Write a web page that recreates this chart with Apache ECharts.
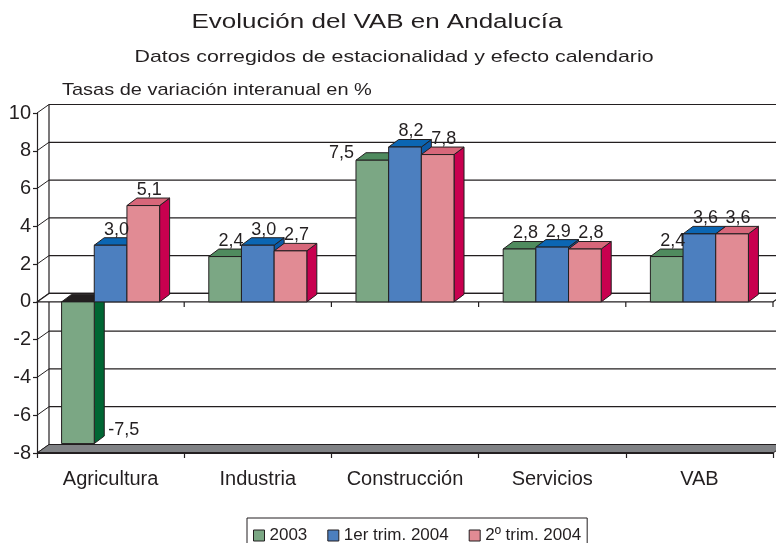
<!DOCTYPE html>
<html><head><meta charset="utf-8">
<script src="https://cdn.jsdelivr.net/npm/echarts@6/dist/echarts.min.js"></script>
<style>html,body{margin:0;padding:0;background:#fff}#c{width:776px;height:543px}</style>
</head><body><div id="c"></div>
<script>
// ---- data ----
const categories = ['Agricultura', 'Industria', 'Construcción', 'Servicios', 'VAB'];
const seriesNames = ['2003', '1er trim. 2004', '2º trim. 2004'];
const values2003 = [-7.5, 2.4, 7.5, 2.8, 2.4];
const values1T2004 = [3.0, 3.0, 8.2, 2.9, 3.6];
const values2T2004 = [5.1, 2.7, 7.8, 2.8, 3.6];
const yTicks = [-8, -6, -4, -2, 0, 2, 4, 6, 8, 10];
const titleText = 'Evolución del VAB en Andalucía';
const subtitleText = 'Datos corregidos de estacionalidad y efecto calendario';
const axisTitleText = 'Tasas de variación interanual en %';

// ---- style ----
const INK = '#231f20';
const FONT = '"Liberation Sans", Arial, Helvetica, sans-serif';
const BDX = 10, BDY = -7.5;   // bar depth
const WDX = 12, WDY = -8.5;   // wall depth
const NEG_TOP = '#231f20';
const FLOOR = '#808285';
const LABEL_SIZE = 18;
const palettes = [
  {front: '#7ba784', top: '#4f8b5e', side: '#006633'},
  {front: '#4c7fbf', top: '#0b66b3', side: '#0b5aa6'},
  {front: '#e18b94', top: '#d7677a', side: '#c8004f'}
];
const fmt = v => v.toFixed(1).replace('.', ',');

function txt(x, y, text, size, align, valign, extra) {
  return Object.assign({
    type: 'text', x: x, y: y,
    style: {text: text, fontSize: size, fontFamily: FONT, fill: INK,
      textAlign: align, align: align, textVerticalAlign: valign, verticalAlign: valign}
  }, extra || {});
}

function renderFrame(params, api) {
  const cs = params.coordSys;
  const L = cs.x, R = cs.x + cs.width;
  const yv = v => api.coord([0, v])[1];
  const yMax = yv(yTicks[yTicks.length - 1]), yMin = yv(yTicks[0]), y0 = yv(0);
  const cw = api.size([1, 0])[0];
  const ch = [];
  const ln = (x1, y1, x2, y2, w) => ({type: 'line', shape: {x1, y1, x2, y2}, style: {stroke: INK, lineWidth: w || 1}});
  ch.push({type: 'rect', shape: {x: L + WDX, y: yMax + WDY, width: R - L, height: yMin - yMax}, style: {fill: '#fff'}});
  yTicks.forEach(t => {
    const y = yv(t);
    ch.push(ln(L + WDX, y + WDY, R + WDX, y + WDY, 1.2));
    ch.push(ln(L, y, L + WDX, y + WDY, 1));
  });
  ch.push(ln(L + WDX, yMax + WDY, L + WDX, yMin + WDY, 1.2));
  // zero plane
  ch.push({type: 'polygon', shape: {points: [[L, y0], [L + WDX, y0 + WDY], [R + WDX, y0 + WDY], [R, y0]]},
    style: {fill: '#fff', stroke: INK, lineWidth: 1.2}});
  for (let i = 1; i <= categories.length; i++) ch.push(ln(L + i * cw, y0, L + i * cw, y0 + 5, 1.2));
  // floor
  ch.push({type: 'polygon', shape: {points: [[L, yMin], [L + WDX, yMin + WDY], [R + WDX, yMin + WDY], [R, yMin]]},
    style: {fill: FLOOR, stroke: INK, lineWidth: 1}});
  ch.push(ln(L, yMin, R, yMin, 2));
  return {type: 'group', children: ch};
}

function makeBarRenderer(sIdx) {
  const pal = palettes[sIdx];
  return function (params, api) {
    const ci = api.value(0), v = api.value(1);
    const cw = api.size([1, 0])[0];
    const bw = cw * 0.222;
    const c0 = api.coord([ci, 0]);
    const c1 = api.coord([ci, v]);
    const cx = c0[0] + (sIdx - 1) * bw;
    const x0 = cx - bw / 2, x1 = cx + bw / 2;
    const yTop = Math.min(c0[1], c1[1]), yBot = Math.max(c0[1], c1[1]);
    const neg = v < 0;
    const z2 = sIdx * 10;
    const ch = [
      {type: 'polygon', z2: z2, shape: {points: [[x1, yTop], [x1 + BDX, yTop + BDY], [x1 + BDX, yBot + BDY], [x1, yBot]]},
        style: {fill: pal.side, stroke: INK, lineWidth: 1}},
      {type: 'polygon', z2: z2 + 1, shape: {points: [[x0, yTop], [x0 + BDX, yTop + BDY], [x1 + BDX, yTop + BDY], [x1, yTop]]},
        style: {fill: neg ? NEG_TOP : pal.top, stroke: INK, lineWidth: 1}},
      {type: 'rect', z2: z2 + 2, shape: {x: x0, y: yTop, width: bw, height: yBot - yTop},
        style: {fill: pal.front, stroke: INK, lineWidth: 1}}
    ];
    let lab;
    if (neg) lab = txt(x1 + BDX + 4, yBot + BDY - 6, fmt(v), LABEL_SIZE, 'left', 'middle', {z2: 100});
    else if (categories[ci] === 'Construcción' && sIdx === 0)
      lab = txt(x0 - 2, yTop + BDY, fmt(v), LABEL_SIZE, 'right', 'middle', {z2: 100});
    else lab = txt(cx + BDX / 2 + 1, yTop + BDY + 1, fmt(v), LABEL_SIZE, 'center', 'bottom', {z2: 100});
    ch.push(lab);
    return {type: 'group', children: ch};
  };
}

const seriesValues = [values2003, values1T2004, values2T2004];
const barSeries = seriesNames.map((name, s) => ({
  type: 'custom', name: name, z: 3, silent: true,
  itemStyle: {color: palettes[s].front, borderColor: INK, borderWidth: 1},
  data: seriesValues[s].map((v, i) => [i, v]),
  encode: {x: 0, y: 1},
  renderItem: makeBarRenderer(s)
}));

const chart = echarts.init(document.getElementById('c'), null, {renderer: 'canvas'});
chart.setOption({
  animation: false,
  backgroundColor: '#fff',
  textStyle: {fontFamily: FONT},
  grid: {left: 37, right: 3, top: 113, bottom: 90, containLabel: false, outerBoundsMode: 'none'},
  xAxis: {
    type: 'category', data: categories, boundaryGap: true,
    axisLine: {show: false, onZero: false},
    axisTick: {show: true, length: 5, lineStyle: {color: INK, width: 1.2}},
    axisLabel: {fontSize: 20, color: INK, margin: 16, fontFamily: FONT, interval: 0, hideOverlap: false},
    splitLine: {show: false}
  },
  yAxis: {
    type: 'value', min: -8, max: 10, interval: 2,
    axisLine: {show: true, lineStyle: {color: INK, width: 1.2}},
    axisTick: {show: true, length: 4, lineStyle: {color: INK, width: 1.2}},
    axisLabel: {fontSize: 20, color: INK, margin: 6, fontFamily: FONT},
    splitLine: {show: false}
  },
  legend: {
    data: seriesNames, left: 247, top: 518, orient: 'horizontal', selectedMode: false,
    icon: 'rect', itemWidth: 11, itemHeight: 11, itemGap: 20,
    padding: [9, 6, 12, 6], borderColor: INK, borderWidth: 1, backgroundColor: '#fff',
    textStyle: {fontSize: 17, color: INK, fontFamily: FONT},
    itemStyle: {borderColor: INK, borderWidth: 1}
  },
  graphic: [
    txt(377, 22.5, titleText, 20, 'center', 'middle', {scaleX: 1.3}),
    txt(394, 57.5, subtitleText, 17, 'center', 'middle', {scaleX: 1.257}),
    txt(62, 90, axisTitleText, 17, 'left', 'middle', {scaleX: 1.175})
  ],
  series: [{
    type: 'custom', name: 'frame', z: 1, silent: true,
    data: [[0, 0]], encode: {x: 0, y: 1},
    renderItem: renderFrame
  }].concat(barSeries)
});
</script></body></html>
